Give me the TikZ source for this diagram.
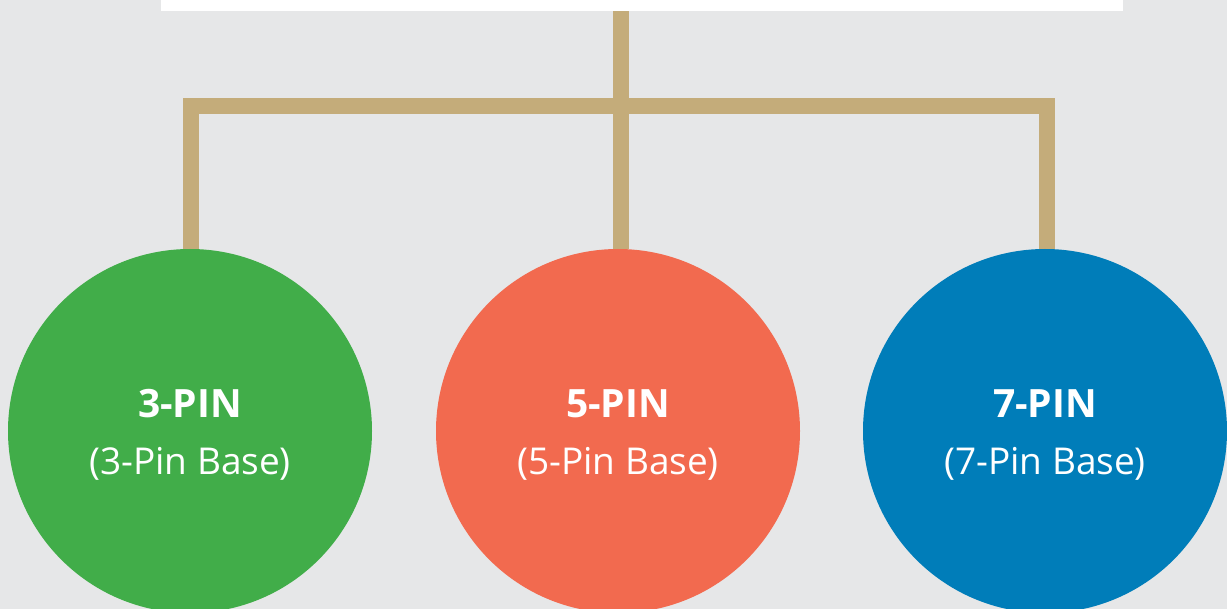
\documentclass[tikz,border=0pt]{standalone}
\usepackage{fontspec}
\setmainfont{Open Sans}
\definecolor{bggrey}{RGB}{230,231,232}
\definecolor{wiregold}{RGB}{196,172,122}
\definecolor{pingreen}{RGB}{65,173,73}
\definecolor{pinorange}{RGB}{242,106,79}
\definecolor{pinblue}{RGB}{0,125,185}
\pgfdeclarelayer{back}
\pgfdeclarelayer{wires}
\pgfsetlayers{back,wires,main}
\tikzset{
  pin/.style={circle,minimum size=182pt,inner sep=0pt,text=white,align=center},
  wire/.style={draw=wiregold,line width=8pt,line join=miter},
}
\newcommand{\pinlabel}[2]{{\bfseries\fontsize{19.5}{23.5}\selectfont #1}\\[14pt]{\fontsize{18.5}{22}\selectfont #2}}
\begin{document}
\begin{tikzpicture}[x=0.5pt,y=-0.5pt]
\useasboundingbox (0,0) rectangle (1227,609);
\clip (0,0) rectangle (1227,609);
\begin{pgfonlayer}{back}
\fill[bggrey] (0,0) rectangle (1227,609);
\end{pgfonlayer}
\node[fill=white,minimum width=481pt,minimum height=21pt,inner sep=0pt] (title) at (642,-10) {};
\coordinate (bus) at (621,106);
\node[pin,fill=pingreen] (p3) at (190,431) {};
\node[pin,fill=pinorange] (p5) at (618,431) {};
\node[pin,fill=pinblue] (p7) at (1045,431) {};
\node[text=white,align=center] (t3) at ([yshift=-2pt]p3.center) {\pinlabel{3-PIN}{(3-Pin Base)}};
\node[text=white,align=center] (t5) at ([yshift=-2pt]p5.center) {\pinlabel{5-PIN}{(5-Pin Base)}};
\node[text=white,align=center] (t7) at ([yshift=-2pt]p7.center) {\pinlabel{7-PIN}{(7-Pin Base)}};
\begin{pgfonlayer}{wires}
\draw[wire] (title.south -| bus) -- (bus);
\draw[wire] ([xshift=0.5pt]p3.north) |- (bus) -| ([xshift=1pt]p7.north);
\draw[wire] (bus) -- (bus |- p5.north);
\end{pgfonlayer}
\end{tikzpicture}
\end{document}
